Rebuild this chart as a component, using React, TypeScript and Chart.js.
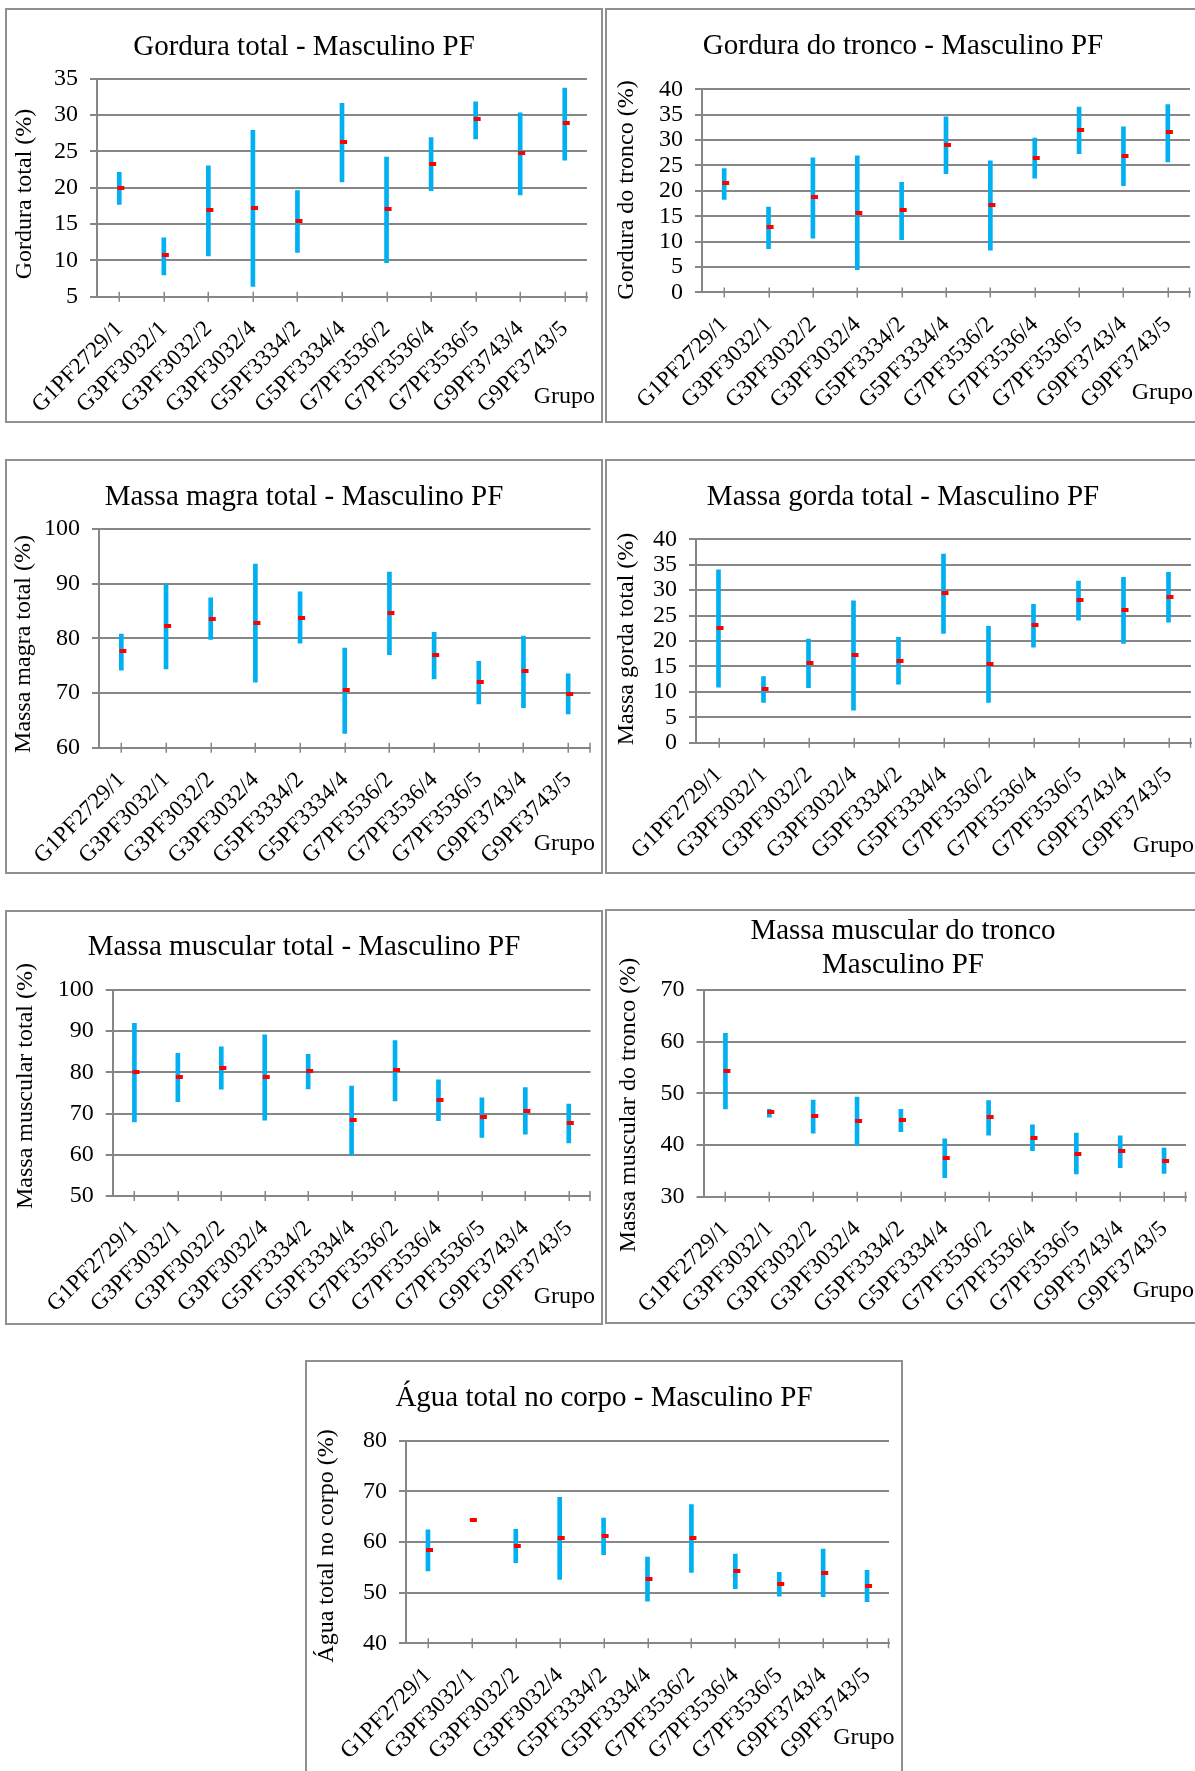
import React, { useEffect, useRef } from 'react';
import { Chart, registerables } from 'chart.js';

Chart.register(...registerables);

const FONT = '"Liberation Serif", "Times New Roman", serif';
const GRID = '#868686';
const CYAN = '#00B0F0';
const RED = '#FF0000';

const categories = [
  'G1PF2729/1', 'G3PF3032/1', 'G3PF3032/2', 'G3PF3032/4', 'G5PF3334/2', 'G5PF3334/4',
  'G7PF3536/2', 'G7PF3536/4', 'G7PF3536/5', 'G9PF3743/4', 'G9PF3743/5',
];

// Gordura total (%)
const gorduraTotalMin = [17.7, 8.0, 10.6, 6.4, 11.1, 20.8, 9.7, 19.6, 26.7, 19.0, 23.8];
const gorduraTotalMax = [22.1, 13.1, 23.0, 27.9, 19.6, 31.6, 24.2, 26.9, 31.8, 30.3, 33.7];
const gorduraTotalMean = [20.0, 10.7, 16.9, 17.2, 15.4, 26.3, 17.1, 23.3, 29.4, 24.8, 28.9];

// Gordura do tronco (%)
const gorduraTroncoMin = [18.3, 8.6, 10.7, 4.5, 10.4, 23.4, 8.3, 22.5, 27.3, 21.0, 25.7];
const gorduraTroncoMax = [24.4, 16.8, 26.5, 26.9, 21.7, 34.6, 25.9, 30.4, 36.5, 32.6, 37.0];
const gorduraTroncoMean = [21.5, 12.8, 18.7, 15.7, 16.2, 29.0, 17.3, 26.5, 31.9, 26.9, 31.5];

// Massa magra total (%)
const massaMagraMin = [74.2, 74.4, 79.8, 72.0, 79.1, 62.6, 77.0, 72.6, 68.0, 67.3, 66.2];
const massaMagraMax = [80.8, 89.9, 87.4, 93.6, 88.5, 78.2, 92.1, 81.1, 75.8, 80.4, 73.5];
const massaMagraMean = [77.6, 82.2, 83.6, 82.8, 83.8, 70.5, 84.6, 76.9, 72.0, 74.0, 69.9];

// Massa gorda total (%)
const massaGordaMin = [10.9, 7.9, 10.8, 6.4, 11.5, 21.5, 7.9, 18.8, 24.1, 19.5, 23.7];
const massaGordaMax = [34.0, 13.0, 20.4, 27.9, 20.7, 37.1, 22.9, 27.2, 31.8, 32.5, 33.5];
const massaGordaMean = [22.5, 10.6, 15.7, 17.2, 16.1, 29.4, 15.4, 23.1, 28.1, 26.0, 28.7];

// Massa muscular total (%)
const muscularTotalMin = [68.0, 72.9, 75.9, 68.4, 76.0, 60.0, 73.1, 68.3, 64.2, 65.0, 62.9];
const muscularTotalMax = [91.9, 84.6, 86.2, 89.1, 84.4, 76.7, 87.7, 78.2, 73.8, 76.3, 72.3];
const muscularTotalMean = [80.0, 78.8, 81.1, 78.8, 80.3, 68.4, 80.5, 73.3, 69.1, 70.7, 67.6];

// Massa muscular do tronco (%)
const muscularTroncoMin = [47.0, 45.4, 42.3, 39.9, 42.6, 33.7, 41.9, 38.9, 34.4, 35.6, 34.5];
const muscularTroncoMax = [61.6, 46.9, 48.7, 49.3, 46.9, 41.2, 48.6, 43.9, 42.3, 41.8, 39.4];
const muscularTroncoMean = [54.4, 46.3, 45.6, 44.6, 44.8, 37.5, 45.4, 41.4, 38.3, 38.8, 37.0];

// Água total no corpo (%)
const aguaMin = [54.3, 64.4, 55.9, 52.6, 57.5, 48.3, 54.0, 50.8, 49.3, 49.2, 48.2];
const aguaMax = [62.4, 64.4, 62.5, 68.8, 64.7, 57.0, 67.4, 57.6, 54.0, 58.6, 54.4];
const aguaMean = [58.5, 64.4, 59.3, 60.8, 61.1, 52.7, 60.8, 54.3, 51.7, 53.9, 51.4];

type PanelCfg = {
  title: string[];
  yTitle: string;
  min: number[];
  max: number[];
  mean: number[];
  yMin: number;
  yMax: number;
  step: number;
  // layout (absolute page px)
  L: number; T: number; W: number; H: number;
  plot: [number, number, number, number];
  titleYs: number[];
  yTitlePos: [number, number];
  grupoPos: [number, number];
};

const panels: PanelCfg[] = [
  {
    title: ['Gordura total - Masculino PF'], yTitle: 'Gordura total (%)',
    min: gorduraTotalMin, max: gorduraTotalMax, mean: gorduraTotalMean, yMin: 5, yMax: 35, step: 5,
    L: 5, T: 8, W: 598, H: 415, plot: [97, 78.7, 587, 296.7], titleYs: [54.5],
    yTitlePos: [25, 194], grupoPos: [595, 403],
  },
  {
    title: ['Gordura do tronco - Masculino PF'], yTitle: 'Gordura do tronco (%)',
    min: gorduraTroncoMin, max: gorduraTroncoMax, mean: gorduraTroncoMean, yMin: 0, yMax: 40, step: 5,
    L: 605, T: 8, W: 596, H: 415, plot: [702, 89.3, 1190, 292.4], titleYs: [54.3],
    yTitlePos: [627, 190], grupoPos: [1193, 399],
  },
  {
    title: ['Massa magra total - Masculino PF'], yTitle: 'Massa magra total (%)',
    min: massaMagraMin, max: massaMagraMax, mean: massaMagraMean, yMin: 60, yMax: 100, step: 10,
    L: 5, T: 459, W: 598, H: 415, plot: [99, 529, 590.5, 747.7], titleYs: [505],
    yTitlePos: [24, 644], grupoPos: [595, 850],
  },
  {
    title: ['Massa gorda total - Masculino PF'], yTitle: 'Massa gorda total (%)',
    min: massaGordaMin, max: massaGordaMax, mean: massaGordaMean, yMin: 0, yMax: 40, step: 5,
    L: 605, T: 459, W: 596, H: 415, plot: [696, 539.3, 1191, 742.7], titleYs: [505],
    yTitlePos: [627, 639], grupoPos: [1194, 852],
  },
  {
    title: ['Massa muscular total - Masculino PF'], yTitle: 'Massa muscular total (%)',
    min: muscularTotalMin, max: muscularTotalMax, mean: muscularTotalMean, yMin: 50, yMax: 100, step: 10,
    L: 5, T: 910, W: 598, H: 415, plot: [112.7, 990, 590.5, 1196], titleYs: [955],
    yTitlePos: [26, 1086], grupoPos: [595, 1303],
  },
  {
    title: ['Massa muscular do tronco', 'Masculino PF'], yTitle: 'Massa muscular do tronco (%)',
    min: muscularTroncoMin, max: muscularTroncoMax, mean: muscularTroncoMean, yMin: 30, yMax: 70, step: 10,
    L: 605, T: 909, W: 596, H: 415, plot: [703.5, 990, 1186, 1196.7], titleYs: [939.3, 973.3],
    yTitlePos: [628.5, 1105], grupoPos: [1194, 1297],
  },
  {
    title: ['Água total no corpo - Masculino PF'], yTitle: 'Água total no corpo (%)',
    min: aguaMin, max: aguaMax, mean: aguaMean, yMin: 40, yMax: 80, step: 10,
    L: 305, T: 1360, W: 598, H: 415, plot: [406, 1440.7, 889, 1643.3], titleYs: [1406],
    yTitlePos: [327, 1546], grupoPos: [894.5, 1743.5],
  },
];

function makeMarker(): HTMLCanvasElement {
  const c = document.createElement('canvas');
  c.width = 14;
  c.height = 4;
  const g = c.getContext('2d')!;
  g.fillStyle = RED;
  g.fillRect(5, 0, 7, 4);
  return c;
}

function Panel({ cfg }: { cfg: PanelCfg }) {
  const ref = useRef<HTMLCanvasElement>(null);
  const cw = cfg.W - 4;
  const ch = cfg.H - 4;

  useEffect(() => {
    const ox = cfg.L + 2;
    const oy = cfg.T + 2;
    const plotL = cfg.plot[0] - ox;
    const plotT = cfg.plot[1] - oy;
    const plotR = cfg.plot[2] - ox;
    const plotB = cfg.plot[3] - oy;
    const marker = makeMarker();

    const textPlugin = {
      id: 'panelTexts',
      afterDraw(chart: any) {
        const ctx = chart.ctx as CanvasRenderingContext2D;
        // crossing tick marks on the category axis
        const xs = chart.scales.x;
        const b = chart.chartArea.bottom;
        ctx.save();
        ctx.strokeStyle = GRID;
        ctx.lineWidth = 1.5;
        ctx.beginPath();
        for (let i = 0; i < categories.length; i++) {
          const x = Math.round(xs.getPixelForValue(i)) + 0.25;
          ctx.moveTo(x, b - 5);
          ctx.lineTo(x, b + 5);
        }
        const xr = chart.chartArea.right - 0.5;
        ctx.moveTo(xr, b - 5);
        ctx.lineTo(xr, b + 5);
        ctx.stroke();
        ctx.restore();

        ctx.save();
        ctx.fillStyle = '#000';
        ctx.font = `29px ${FONT}`;
        ctx.textAlign = 'center';
        ctx.textBaseline = 'alphabetic';
        cfg.title.forEach((t, i) => ctx.fillText(t, cw / 2, cfg.titleYs[i] - oy));
        ctx.font = `24px ${FONT}`;
        ctx.textAlign = 'right';
        ctx.fillText('Grupo', cfg.grupoPos[0] - ox, cfg.grupoPos[1] - oy);
        ctx.translate(cfg.yTitlePos[0] - ox, cfg.yTitlePos[1] - oy);
        ctx.rotate(-Math.PI / 2);
        ctx.textAlign = 'center';
        ctx.textBaseline = 'middle';
        ctx.fillText(cfg.yTitle, 0, 0);
        ctx.restore();
      },
    };

    const chart = new Chart(ref.current!, {
      type: 'bar',
      data: {
        labels: categories,
        datasets: [
          {
            type: 'line',
            label: 'Média',
            data: cfg.mean,
            showLine: false,
            pointStyle: marker,
            pointRadius: 3,
            pointHoverRadius: 3,
            order: 0,
          } as any,
          {
            type: 'bar',
            label: 'Mín - Máx',
            data: cfg.min.map((v, i) => [v, cfg.max[i]]),
            backgroundColor: CYAN,
            borderWidth: 0,
            barThickness: 4,
            order: 1,
          } as any,
        ],
      },
      options: {
        responsive: false,
        animation: false,
        events: [],
        layout: { padding: { left: 0, top: plotT, right: cw - plotR, bottom: 0 } },
        plugins: {
          legend: { display: false },
          tooltip: { enabled: false },
          title: { display: false },
        },
        scales: {
          x: {
            grid: { display: true, drawOnChartArea: false, drawTicks: false, color: GRID },
            border: { display: true, color: GRID, width: 2 },
            ticks: {
              autoSkip: false,
              maxRotation: 45,
              minRotation: 45,
              padding: 19,
              color: '#000',
              font: { family: FONT, size: 23 },
            },
            afterFit: (s: any) => {
              s.height = ch - plotB;
              s.paddingLeft = 0;
              s.paddingRight = 0;
            },
          },
          y: {
            min: cfg.yMin,
            max: cfg.yMax,
            ticks: {
              stepSize: cfg.step,
              autoSkip: false,
              padding: 12,
              color: '#000',
              font: { family: FONT, size: 24 },
            },
            grid: { color: GRID, lineWidth: 2, tickLength: 7 },
            border: { display: true, color: GRID, width: 2 },
            afterFit: (s: any) => {
              s.width = plotL;
              s.paddingTop = 0;
              s.paddingBottom = 0;
            },
          },
        },
      } as any,
      plugins: [textPlugin],
    });
    return () => chart.destroy();
  }, []);

  return (
    <div
      style={{
        position: 'absolute',
        left: cfg.L,
        top: cfg.T,
        width: cfg.W,
        height: cfg.H,
        border: '2px solid #909090',
        boxSizing: 'border-box',
        background: '#fff',
      }}
    >
      <canvas ref={ref} width={cw} height={ch} style={{ display: 'block' }} />
    </div>
  );
}

export default function App() {
  return (
    <div
      style={{
        position: 'absolute',
        left: 0,
        top: 0,
        width: 1195,
        height: 1771,
        overflow: 'hidden',
        background: '#fff',
        fontFamily: FONT,
      }}
    >
      {panels.map((p, i) => (
        <Panel key={i} cfg={p} />
      ))}
    </div>
  );
}
